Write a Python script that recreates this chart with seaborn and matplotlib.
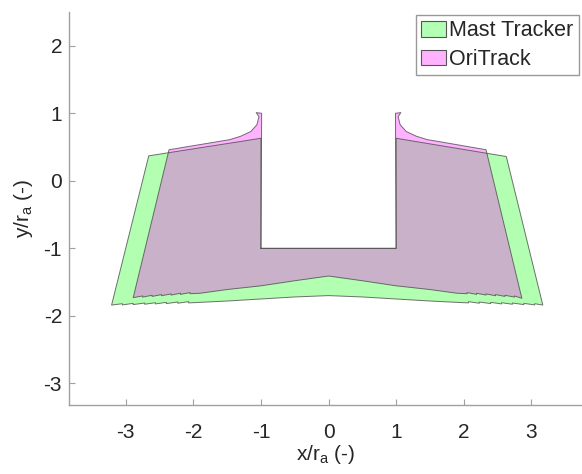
import matplotlib
matplotlib.use("Agg")
import matplotlib.pyplot as plt
from matplotlib.patches import Patch
import seaborn as sns
import pandas as pd

# ---- data (in units of r_a) ----
mast_x = [-1.00, -1.00, -2.66, -3.21,
          -3.05, -3.05, -2.89, -2.89, -2.72, -2.72, -2.56, -2.56,
          -2.40, -2.40, -2.23, -2.23, -2.07, -2.07,
          -1.90, -1.50, -1.00, -0.50, 0.00, 0.50, 1.00, 1.50, 1.90,
          2.07, 2.07, 2.23, 2.23, 2.40, 2.40, 2.56, 2.56,
          2.72, 2.72, 2.89, 2.89, 3.05, 3.05,
          3.17, 2.63, 1.00, 1.00]
mast_y = [-1.00, 0.63, 0.37, -1.84,
          -1.820, -1.838, -1.815, -1.833, -1.810, -1.828, -1.805, -1.823,
          -1.800, -1.818, -1.795, -1.813, -1.790, -1.808,
          -1.800, -1.780, -1.750, -1.720, -1.700, -1.720, -1.750, -1.780, -1.800,
          -1.808, -1.790, -1.813, -1.795, -1.818, -1.800, -1.823, -1.805,
          -1.828, -1.810, -1.833, -1.815, -1.838, -1.820,
          -1.84, 0.36, 0.63, -1.00]

ori_x = [-1.00, -0.99, -1.07, -1.03, -1.06, -1.15, -1.30, -1.46, -1.64, -2.36,
         -2.89,
         -2.75, -2.75, -2.61, -2.61, -2.47, -2.47, -2.33, -2.33,
         -2.19, -2.19, -2.05, -2.05,
         -1.90, -1.50, -1.00, -0.50, 0.00, 0.50, 1.00, 1.50, 1.90,
         2.05, 2.05, 2.19, 2.19, 2.33, 2.33, 2.47, 2.47,
         2.61, 2.61, 2.75, 2.75,
         2.86, 2.33, 1.64, 1.46, 1.30, 1.15, 1.06, 1.03, 1.07, 0.99, 1.00]
ori_y = [-1.00, 1.00, 1.01, 0.95, 0.83, 0.73, 0.66, 0.61, 0.58, 0.46,
         -1.73,
         -1.705, -1.722, -1.695, -1.712, -1.685, -1.702, -1.675, -1.692,
         -1.665, -1.682, -1.655, -1.672,
         -1.665, -1.61, -1.555, -1.48, -1.41, -1.48, -1.555, -1.61, -1.665,
         -1.672, -1.655, -1.682, -1.665, -1.692, -1.675, -1.702, -1.685,
         -1.712, -1.695, -1.722, -1.705,
         -1.74, 0.46, 0.58, 0.61, 0.66, 0.73, 0.83, 0.95, 1.01, 1.00, -1.00]

labels = ["Mast Tracker", "OriTrack"]
face_colors = [(0, 1, 0), (1, 0, 1)]
x_ticks = [-3, -2, -1, 0, 1, 2, 3]
y_ticks = [-3, -2, -1, 0, 1, 2]

# ---- style ----
sns.set_theme(style="white")
plt.rcParams["font.family"] = ["Liberation Sans", "DejaVu Sans"]
plt.rcParams["axes.unicode_minus"] = False

fig = plt.figure(figsize=(5.82, 4.74), dpi=100)
ax = fig.add_axes([69 / 582, 1 - 405 / 474, 1 - 69 / 582, (405 - 12) / 474])

edge = "#4d4d4d"
for xs, ys, fc in [(mast_x, mast_y, face_colors[0]), (ori_x, ori_y, face_colors[1])]:
    ax.fill(xs, ys, facecolor=fc, alpha=0.3, edgecolor="none", zorder=2)
    df = pd.DataFrame({"x": xs + [xs[0]], "y": ys + [ys[0]]})
    sns.lineplot(data=df, x="x", y="y", sort=False, estimator=None,
                 color=edge, linewidth=0.7, alpha=0.8, ax=ax, zorder=3)

ax.set_xlim(-3.84, 3.75)
ax.set_ylim(-3.32, 2.50)
ax.set_xticks(x_ticks)
ax.set_yticks(y_ticks)
ax.set_xticklabels([str(t) for t in x_ticks])
ax.set_yticklabels([str(t) for t in y_ticks])

for side in ["top", "right"]:
    ax.spines[side].set_visible(False)
for side in ["left", "bottom"]:
    ax.spines[side].set_color("#a0a0a0")
    ax.spines[side].set_linewidth(1.0)

ax.tick_params(axis="both", which="major", direction="in", length=4,
               width=0.8, color="#a0a0a0", labelsize=15, labelcolor="#262626")
ax.tick_params(axis="x", pad=13, bottom=True)
ax.tick_params(axis="y", pad=5, left=True)

ax.set_xlabel(r"x/r$_\mathregular{a}$ (-)", fontsize=15, color="#262626", labelpad=1)
ax.set_ylabel(r"y/r$_\mathregular{a}$ (-)", fontsize=15, color="#262626", labelpad=6)

handles = [Patch(facecolor=(0.7, 1.0, 0.7), edgecolor="#555555", linewidth=0.8),
           Patch(facecolor=(1.0, 0.7, 1.0), edgecolor="#555555", linewidth=0.8)]
leg = fig.legend(handles, labels, loc="upper right",
                 bbox_to_anchor=(579 / 582, 1 - 15 / 474),
                 bbox_transform=fig.transFigure, fontsize=15.5,
                 fancybox=False, framealpha=1, edgecolor="#999999",
                 handlelength=1.15, handleheight=0.75, handletextpad=0.15,
                 labelspacing=0.35, borderpad=0.25, borderaxespad=0)
leg.get_frame().set_linewidth(1.0)

fig.savefig("out.png", dpi=100)
